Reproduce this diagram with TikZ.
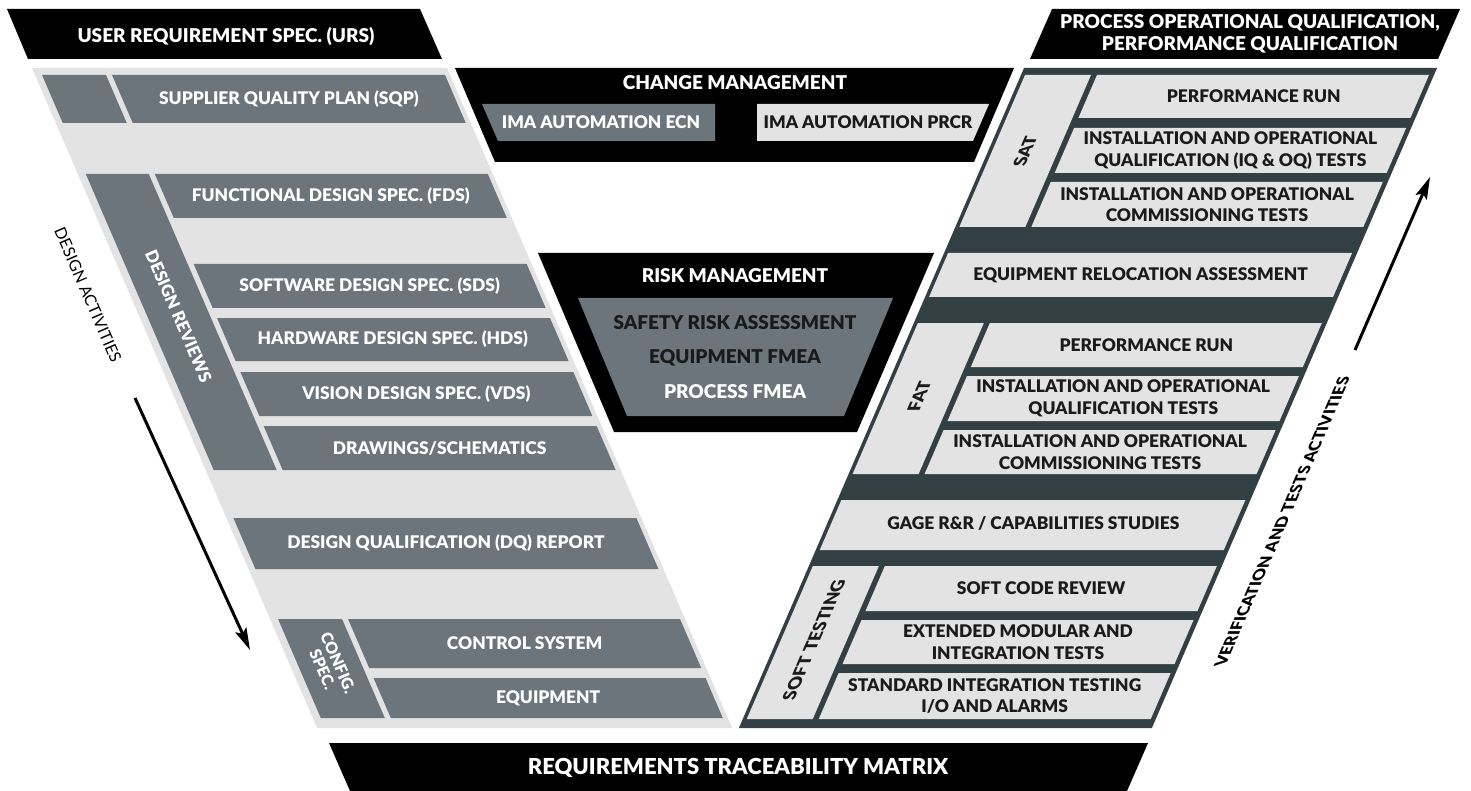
\documentclass[tikz,border=0pt]{standalone}
\usepackage{fontspec}
\setmainfont{Lato}[BoldFont={Lato Black}]
\usetikzlibrary{arrows.meta}
\definecolor{lgrey}{HTML}{E3E3E3}
\definecolor{slate}{HTML}{6B757B}
\definecolor{dslate}{HTML}{323F43}
\definecolor{ink}{HTML}{1A1A1A}
% parallelograms following the slanted panels
\newcommand\mkLbox[5]{\fill[#1] ({lx(#2)+#4},#2) -- ({lx(#2)+#5},#2) -- ({lx(#3)+#5},#3) -- ({lx(#3)+#4},#3) -- cycle;}
\newcommand\mkRbox[5]{\fill[#1] ({rx(#2)+#4},#2) -- ({rx(#2)+#5},#2) -- ({rx(#3)+#5},#3) -- ({rx(#3)+#4},#3) -- cycle;}
\newcommand\mkLtxt[6]{\node[#5] (#1) at ({lx(#2)+(#3+#4)/2},#2) {#6};}
\newcommand\mkRtxt[6]{\node[#5] (#1) at ({rx(#2)+(#3+#4)/2},#2) {#6};}
\begin{document}
\begin{tikzpicture}[x=1pt,y=-1pt,
  declare function={lx(\t)=32+0.432*(\t-68); rx(\t)=1024-0.432*(\t-68);},
  lab/.style={font=\fontsize{17.4}{21.5}\selectfont\bfseries, align=center, inner sep=0pt},
  big/.style={font=\fontsize{19}{23}\selectfont\bfseries, align=center, inner sep=0pt},
  wl/.style={lab, text=white},
  bl/.style={lab, text=ink},
  lrot/.style={rotate=-66.6},
  rrot/.style={xslant=0.432, rotate=90},
  arr/.style={line width=3pt, -{Stealth[length=22pt,width=12pt,inset=4pt]}},
]
\useasboundingbox (0,0) rectangle (1471,791);
\fill[white] (0,0) rectangle (1471,791);

% ---------- headers ----------
\fill[black] (7,9) -- (420,9) -- (442,59) -- (28,59) -- cycle;
\node[big, text=white] (urs) at (226,37) {USER REQUIREMENT SPEC. (URS)};
\fill[black] (1052,9) -- (1460,9) -- (1438,59) -- (1030,59) -- cycle;
\node[big, text=white, font=\fontsize{19}{22.5}\selectfont\bfseries] (poq) at (1250,34) {PROCESS OPERATIONAL QUALIFICATION,\\PERFORMANCE QUALIFICATION};
\fill[black] (329,743) -- (1148,743) -- (1127,791) -- (350,791) -- cycle;
\node[big, text=white, font=\fontsize{22}{26}\selectfont\bfseries] (rtm) at (738,768) {REQUIREMENTS TRACEABILITY MATRIX};

% ---------- left panel ----------
\mkLbox{lgrey}{68}{728}{0}{415}
\mkLbox{slate}{75}{123}{7}{71}
\mkLbox{slate}{75}{123}{77}{410}
\mkLtxt{sqp}{99}{77}{410}{wl}{SUPPLIER QUALITY PLAN (SQP)}
\mkLbox{slate}{174}{470}{8}{71}
\node[wl,lrot,font=\fontsize{17}{20}\selectfont\bfseries] (dr) at ({lx(316)+39.5},316) {DESIGN REVIEWS};
\mkLbox{slate}{174}{218}{77}{410}
\mkLtxt{fds}{196}{77}{410}{wl}{FUNCTIONAL DESIGN SPEC. (FDS)}
\mkLbox{slate}{264}{308}{77}{410}
\mkLtxt{sds}{286}{77}{410}{wl}{SOFTWARE DESIGN SPEC. (SDS)}
\mkLbox{slate}{318}{361}{77}{410}
\mkLtxt{hds}{339.5}{77}{410}{wl}{HARDWARE DESIGN SPEC. (HDS)}
\mkLbox{slate}{372}{416}{77}{410}
\mkLtxt{vds}{394}{77}{410}{wl}{VISION DESIGN SPEC. (VDS)}
\mkLbox{slate}{426}{470}{77}{410}
\mkLtxt{drw}{448}{77}{410}{wl}{DRAWINGS/SCHEMATICS}
\mkLbox{slate}{518}{569}{7}{410}
\mkLtxt{dq}{543.5}{7}{410}{wl}{DESIGN QUALIFICATION (DQ) REPORT}
\mkLbox{slate}{619}{718}{8}{72}
\node[wl,lrot,font=\fontsize{16}{17}\selectfont\bfseries] (cfg) at ({lx(666)+40},666) {CONFIG.\\SPEC.};
\mkLbox{slate}{619}{668}{78}{410}
\mkLtxt{ctl}{643.5}{78}{410}{wl}{CONTROL SYSTEM}
\mkLbox{slate}{678}{718}{78}{410}
\mkLtxt{eqp}{698}{78}{410}{wl}{EQUIPMENT}

% ---------- right panel ----------
\mkRbox{dslate}{68}{728}{0}{413}
\mkRbox{lgrey}{75}{227}{4}{70}
\node[bl,rrot] (sat) at ({rx(151)+37},151) {SAT};
\mkRbox{lgrey}{75}{118}{76}{408}
\mkRtxt{pr1}{96.5}{76}{408}{bl}{PERFORMANCE RUN}
\mkRbox{lgrey}{128}{173}{76}{408}
\mkRtxt{iq1}{150.5}{76}{408}{bl}{INSTALLATION AND OPERATIONAL\\QUALIFICATION (IQ \& OQ) TESTS}
\mkRbox{lgrey}{182}{227}{76}{408}
\mkRtxt{cm1}{204.5}{76}{408}{bl}{INSTALLATION AND OPERATIONAL\\COMMISSIONING TESTS}
\mkRbox{lgrey}{253}{297}{4}{408}
\mkRtxt{era}{275}{4}{408}{bl}{EQUIPMENT RELOCATION ASSESSMENT}
\mkRbox{lgrey}{323}{474}{4}{70}
\node[bl,rrot] (fat) at ({rx(396)+37},396) {FAT};
\mkRbox{lgrey}{323}{367}{76}{408}
\mkRtxt{pr2}{345}{76}{408}{bl}{PERFORMANCE RUN}
\mkRbox{lgrey}{376}{421}{76}{408}
\mkRtxt{iq2}{398.5}{76}{408}{bl}{INSTALLATION AND OPERATIONAL\\QUALIFICATION TESTS}
\mkRbox{lgrey}{430}{474}{76}{408}
\mkRtxt{cm2}{452}{76}{408}{bl}{INSTALLATION AND OPERATIONAL\\COMMISSIONING TESTS}
\mkRbox{lgrey}{500}{550}{4}{408}
\mkRtxt{gage}{523}{4}{408}{bl}{GAGE R\&R / CAPABILITIES STUDIES}
\mkRbox{lgrey}{566}{719}{4}{70}
\node[bl,rrot] (soft) at ({rx(640)+37},640) {SOFT TESTING};
\mkRbox{lgrey}{566}{611}{76}{408}
\mkRtxt{scr}{588.5}{76}{408}{bl}{SOFT CODE REVIEW}
\mkRbox{lgrey}{620}{664}{76}{408}
\mkRtxt{emi}{642}{76}{408}{bl}{EXTENDED MODULAR AND\\INTEGRATION TESTS}
\mkRbox{lgrey}{673}{719}{76}{408}
\mkRtxt{sit}{696}{76}{408}{bl}{STANDARD INTEGRATION TESTING\\I/O AND ALARMS}

% ---------- change management ----------
\fill[black] (455,68) -- (1014,68) -- (974,162) -- (495,162) -- cycle;
\node[big, text=white] (chg) at (735,83) {CHANGE MANAGEMENT};
\fill[slate] (482,104) -- (715,104) -- (715,141) -- (498,141) -- cycle;
\node[wl] (ecn) at (601,122) {IMA AUTOMATION ECN};
\fill[lgrey] (757,104) -- (989,104) -- (973,141) -- (757,141) -- cycle;
\node[bl] (prcr) at (868,122) {IMA AUTOMATION PRCR};

% ---------- risk management ----------
\fill[black] (538,253) -- (934,253) -- (857,432) -- (614,432) -- cycle;
\node[big, text=white] (risk) at (735,276) {RISK MANAGEMENT};
\fill[slate] (578,298) -- (893,298) -- (844,416) -- (627,416) -- cycle;
\node[big, text=ink] (sra) at (735,323) {SAFETY RISK ASSESSMENT};
\node[big, text=ink] (efm) at (735,358) {EQUIPMENT FMEA};
\node[big, text=white] (pfm) at (735,392) {PROCESS FMEA};

% ---------- side labels and arrows ----------
\node[lrot, font=\fontsize{16}{19}\selectfont, text=black, inner sep=0pt] (da) at (88,295) {DESIGN ACTIVITIES};
\coordinate (das) at (135,398);
\coordinate (dae) at (250,650);
\draw[arr] (das) -- (dae);
\node[bl,rrot,text=black,font=\fontsize{16}{19}\selectfont\bfseries] (vta) at (1282,522) {VERIFICATION AND TESTS ACTIVITIES};
\coordinate (vas) at (1355,350);
\coordinate (vae) at (1430,177);
\draw[arr] (vas) -- (vae);
\end{tikzpicture}
\end{document}
